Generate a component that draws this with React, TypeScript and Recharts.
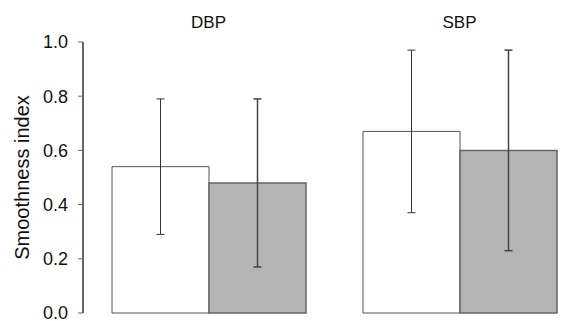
import React from "react"
import { BarChart, Bar, XAxis, YAxis, ErrorBar, Label } from "recharts"

const categories = ["DBP", "SBP"]
const whiteMeans = [0.54, 0.67]
const whiteLow = [0.29, 0.37]
const whiteHigh = [0.79, 0.97]
const grayMeans = [0.48, 0.6]
const grayLow = [0.17, 0.23]
const grayHigh = [0.79, 0.97]
const yTicks = [0, 0.2, 0.4, 0.6, 0.8, 1.0]

const data = categories.map((name, i) => ({
  name,
  white: whiteMeans[i],
  whiteErr: [whiteMeans[i] - whiteLow[i], whiteHigh[i] - whiteMeans[i]],
  gray: grayMeans[i],
  grayErr: [grayMeans[i] - grayLow[i], grayHigh[i] - grayMeans[i]],
}))

const font = "'Liberation Sans', Arial, sans-serif"

export default function App() {
  return (
    <div style={{ width: 579, height: 321, overflow: "hidden", fontFamily: font }}>
      <style>{`body{margin:0}`}</style>
      <BarChart
        width={585}
        height={321}
        data={data}
        margin={{ top: 12, right: 0, bottom: 8, left: 0 }}
        barCategoryGap={29}
        barGap={0}
      >
        <XAxis xAxisId="top" orientation="top" dataKey="name" height={30} axisLine={false} tickLine={false}
          tickMargin={8} tick={{ fontSize: 17, fill: "#111", fontFamily: font }} />
        <XAxis xAxisId="bottom" dataKey="name" height={0} tick={false} tickLine={false}
          axisLine={{ stroke: "#555", strokeWidth: 2 }} />
        <YAxis
          domain={[0, 1]}
          ticks={yTicks}
          width={83}
          tickSize={5}
          tickMargin={10}
          tickFormatter={(v: number) => v.toFixed(1)}
          axisLine={{ stroke: "#666", strokeWidth: 2 }}
          tickLine={{ stroke: "#666" }}
          tick={{ fontSize: 18, fill: "#111", fontFamily: font }}
          interval={0}
        >
          <Label value="Smoothness index" angle={-90} position="insideLeft" offset={22}
            style={{ textAnchor: "middle", fontSize: 20, fill: "#111", fontFamily: font }} />
        </YAxis>
        <Bar xAxisId="bottom" dataKey="white" fill="#ffffff" stroke="#555" strokeWidth={1} isAnimationActive={false}>
          <ErrorBar dataKey="whiteErr" width={4} stroke="#333" strokeWidth={1} />
        </Bar>
        <Bar xAxisId="bottom" dataKey="gray" fill="#b4b4b4" stroke="#666" strokeWidth={1.5} isAnimationActive={false}>
          <ErrorBar dataKey="grayErr" width={4} stroke="#444" strokeWidth={1.5} />
        </Bar>
      </BarChart>
    </div>
  )
}
